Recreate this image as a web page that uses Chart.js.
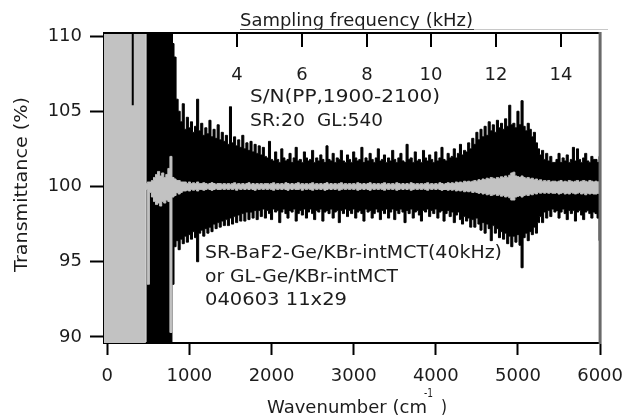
<!DOCTYPE html>
<html>
<head>
<meta charset="utf-8">
<script src="https://cdn.jsdelivr.net/npm/chart.js@4/dist/chart.umd.min.js"></script>
<style>
  html, body { margin: 0; padding: 0; background: #fff; }
  #wrap { width: 634px; height: 417px; }
</style>
</head>
<body>
<div id="wrap"><canvas id="chart_transmittance" width="634" height="417"></canvas></div>
<script>
// wavenumber grid (cm-1), one row = 500 cm-1
const wavenumber = [
  -50, -25, 0, 25, 50, 75, 100, 125, 150, 175, 200, 225, 250, 275, 300, 325, 350, 375, 400, 425,
  450, 475, 500, 525, 550, 575, 600, 625, 650, 675, 700, 725, 750, 775, 800, 825, 850, 875, 900, 925,
  950, 975, 1000, 1025, 1050, 1075, 1100, 1125, 1150, 1175, 1200, 1225, 1250, 1275, 1300, 1325, 1350, 1375, 1400, 1425,
  1450, 1475, 1500, 1525, 1550, 1575, 1600, 1625, 1650, 1675, 1700, 1725, 1750, 1775, 1800, 1825, 1850, 1875, 1900, 1925,
  1950, 1975, 2000, 2025, 2050, 2075, 2100, 2125, 2150, 2175, 2200, 2225, 2250, 2275, 2300, 2325, 2350, 2375, 2400, 2425,
  2450, 2475, 2500, 2525, 2550, 2575, 2600, 2625, 2650, 2675, 2700, 2725, 2750, 2775, 2800, 2825, 2850, 2875, 2900, 2925,
  2950, 2975, 3000, 3025, 3050, 3075, 3100, 3125, 3150, 3175, 3200, 3225, 3250, 3275, 3300, 3325, 3350, 3375, 3400, 3425,
  3450, 3475, 3500, 3525, 3550, 3575, 3600, 3625, 3650, 3675, 3700, 3725, 3750, 3775, 3800, 3825, 3850, 3875, 3900, 3925,
  3950, 3975, 4000, 4025, 4050, 4075, 4100, 4125, 4150, 4175, 4200, 4225, 4250, 4275, 4300, 4325, 4350, 4375, 4400, 4425,
  4450, 4475, 4500, 4525, 4550, 4575, 4600, 4625, 4650, 4675, 4700, 4725, 4750, 4775, 4800, 4825, 4850, 4875, 4900, 4925,
  4950, 4975, 5000, 5025, 5050, 5075, 5100, 5125, 5150, 5175, 5200, 5225, 5250, 5275, 5300, 5325, 5350, 5375, 5400, 5425,
  5450, 5475, 5500, 5525, 5550, 5575, 5600, 5625, 5650, 5675, 5700, 5725, 5750, 5775, 5800, 5825, 5850, 5875, 5900, 5925,
  5950, 5975, 6000
];

// black trace (SR-BaF2-Ge/KBr), upper and lower edge of the noise band (%)
const blackHigh = [
  null, null, null, null, null, null, null, null, null, null, null, null, null, null, null, null, null, null, null, null,
  null, 111, 111, 111, 111, 111, 111, 111, 111, 111, 111, 111, 111, 111, 109.5, 108.6, 105.8, 105.0, 104.3, 105.5,
  103.8, 104.6, 103.9, 104.3, 103.6, 104.0, 105.8, 103.7, 104.2, 103.4, 103.9, 103.5, 104.4, 103.3, 103.8, 103.2, 104.1, 103.1, 103.6, 103.0,
  103.4, 102.8, 105.3, 102.9, 103.3, 102.7, 103.1, 102.6, 103.4, 102.5, 102.9, 102.4, 103.0, 102.3, 102.8, 102.2, 102.7, 102.1, 102.6, 102.0,
  101.9, 103.0, 101.8, 101.7, 102.3, 101.8, 101.6, 102.5, 101.9, 101.7, 101.8, 102.2, 101.6, 101.9, 102.6, 101.7, 101.8, 101.6, 102.3, 101.9,
  101.7, 101.8, 102.4, 101.6, 101.9, 101.7, 102.1, 101.8, 101.6, 102.7, 101.8, 101.7, 102.2, 101.6, 101.9, 101.8, 102.4, 101.7, 101.6, 102.1,
  101.8, 101.6, 102.3, 101.9, 101.7, 101.8, 102.6, 101.6, 101.9, 101.7, 102.2, 101.8, 101.6, 101.9, 102.5, 101.7, 101.8, 102.1, 101.6, 101.9,
  101.7, 102.4, 101.8, 101.6, 101.9, 102.2, 101.7, 101.6, 102.8, 101.8, 101.9, 101.6, 102.3, 101.7, 101.8, 101.6, 102.4, 101.9, 101.7, 102.1,
  101.8, 101.6, 102.3, 101.7, 101.9, 102.6, 101.8, 101.7, 102.2, 101.9, 102.0, 102.5, 101.9, 102.2, 102.8, 102.1, 102.4, 102.3, 102.9, 102.5,
  103.2, 102.8, 103.6, 103.1, 103.8, 103.3, 104.0, 103.4, 104.3, 103.7, 104.1, 103.6, 104.4, 103.9, 104.2, 103.8, 104.5, 104.0, 105.4, 104.1,
  104.2, 103.9, 105.0, 104.1, 105.7, 104.0, 103.7, 104.2, 103.8, 103.3, 103.6, 102.9, 102.5, 102.1, 102.4, 101.8, 102.2, 101.7, 102.0, 101.6,
  101.6, 101.8, 102.2, 101.6, 101.9, 101.7, 102.1, 101.6, 101.8, 102.6, 101.7, 102.5, 101.8, 101.6, 101.9, 102.2, 101.7, 101.6, 102.0, 101.8,
  101.8, 101.6, 102.0
];
const blackLow = [
  null, null, null, null, null, null, null, null, null, null, null, null, null, null, null, null, null, null, null, null,
  null, 89, 89, 89, 89, 89, 89, 89, 89, 89, 89, 89, 89, 89, 93.5, 96.0, 96.4, 95.8, 96.5, 96.2,
  96.7, 96.3, 96.8, 96.5, 97.0, 96.6, 95.0, 96.9, 97.1, 96.7, 97.2, 96.9, 97.3, 97.0, 97.5, 97.2, 97.6, 97.3, 97.7, 97.4,
  97.8, 97.4, 97.9, 97.5, 98.0, 97.6, 98.1, 97.7, 98.2, 97.7, 98.3, 97.8, 98.3, 97.9, 98.4, 97.8, 98.4, 98.0, 98.5, 97.9,
  98.4, 98.2, 97.8, 98.5, 98.3, 98.4, 97.6, 98.3, 98.5, 98.2, 97.9, 98.4, 98.3, 98.5, 97.7, 98.2, 98.4, 98.1, 98.5, 97.9,
  98.3, 98.5, 98.2, 97.8, 98.4, 98.3, 98.5, 97.7, 98.3, 98.4, 98.2, 98.5, 97.9, 98.3, 98.4, 97.6, 98.4, 98.2, 98.5, 98.0,
  98.4, 98.2, 98.5, 97.9, 98.3, 98.4, 98.2, 97.7, 98.5, 98.3, 98.4, 97.9, 98.2, 98.5, 98.3, 97.8, 98.4, 98.2, 98.5, 97.9,
  98.3, 98.5, 97.8, 98.4, 98.2, 98.5, 98.3, 97.6, 98.4, 98.2, 98.5, 97.9, 98.3, 98.4, 98.1, 97.7, 98.4, 98.3, 98.5, 98.0,
  98.4, 98.2, 98.5, 97.9, 98.3, 98.4, 97.7, 98.2, 98.4, 98.0, 98.3, 97.6, 98.1, 98.3, 97.8, 97.5, 98.0, 97.7, 97.9, 97.3,
  97.8, 97.3, 97.9, 97.5, 97.1, 97.6, 96.9, 97.5, 97.2, 96.4, 97.4, 96.9, 97.2, 96.6, 97.0, 96.5, 96.9, 96.2, 96.7, 96.0,
  96.7, 96.3, 96.8, 96.1, 94.6, 96.6, 96.9, 96.4, 97.0, 96.8, 97.3, 96.9, 97.6, 98.0, 97.6, 98.3, 97.9, 98.4, 98.0, 98.5,
  98.3, 98.4, 97.9, 98.3, 98.5, 98.2, 97.8, 98.4, 98.2, 98.4, 97.7, 98.3, 98.4, 98.1, 97.8, 98.3, 98.4, 98.2, 97.9, 98.3,
  98.2, 97.9, 96.4
];

// gray trace (GL-Ge/KBr), upper and lower edge (%)
const grayHigh = [
  111, 111, 111, 111, 111, 111, 111, 111, 111, 111, 111, 111, 111, 111, 111, 111, 111, 111, 111, 111,
  111, 100.2, 100.3, 100.3, 100.4, 100.6, 100.8, 101.0, 100.7, 100.9, 100.6, 100.8, 101.2, 102.0, 100.6, 100.5, 100.4, 100.4, 100.3, 100.3,
  100.3, 100.2, 100.3, 100.2, 100.25, 100.2, 100.3, 100.2, 100.2, 100.25, 100.2, 100.15, 100.2, 100.25, 100.2, 100.15, 100.2, 100.2, 100.15, 100.2,
  100.15, 100.2, 100.15, 100.2, 100.25, 100.15, 100.2, 100.15, 100.2, 100.15, 100.2, 100.25, 100.15, 100.2, 100.15, 100.2, 100.15, 100.2, 100.15, 100.2,
  100.2, 100.15, 100.2, 100.25, 100.15, 100.2, 100.15, 100.2, 100.15, 100.25, 100.2, 100.15, 100.2, 100.15, 100.2, 100.25, 100.15, 100.2, 100.15, 100.2,
  100.15, 100.2, 100.25, 100.15, 100.2, 100.15, 100.2, 100.15, 100.2, 100.25, 100.15, 100.2, 100.15, 100.2, 100.15, 100.2, 100.25, 100.15, 100.2, 100.15,
  100.2, 100.15, 100.2, 100.15, 100.25, 100.2, 100.15, 100.2, 100.15, 100.2, 100.25, 100.15, 100.2, 100.15, 100.2, 100.15, 100.2, 100.25, 100.15, 100.2,
  100.15, 100.2, 100.15, 100.25, 100.2, 100.15, 100.2, 100.15, 100.2, 100.15, 100.25, 100.2, 100.15, 100.2, 100.15, 100.2, 100.15, 100.2, 100.25, 100.15,
  100.2, 100.15, 100.2, 100.15, 100.25, 100.2, 100.15, 100.2, 100.25, 100.2, 100.25, 100.2, 100.3, 100.25, 100.3, 100.25, 100.35, 100.3, 100.35, 100.3,
  100.35, 100.4, 100.35, 100.45, 100.4, 100.5, 100.45, 100.55, 100.5, 100.6, 100.55, 100.5, 100.6, 100.55, 100.65, 100.6, 100.7, 100.6, 100.75, 100.9,
  100.95, 100.7, 100.65, 100.6, 100.7, 100.6, 100.55, 100.6, 100.5, 100.55, 100.45, 100.5, 100.4, 100.45, 100.35, 100.4, 100.35, 100.4, 100.3, 100.35,
  100.35, 100.3, 100.35, 100.4, 100.3, 100.35, 100.3, 100.4, 100.35, 100.3, 100.35, 100.4, 100.3, 100.35, 100.4, 100.35, 100.3, 100.4, 100.35, 100.3,
  100.35, 100.3, 100.35
];
const grayLow = [
  89, 89, 89, 89, 89, 89, 89, 89, 89, 89, 89, 89, 89, 89, 89, 89, 89, 89, 89, 89,
  89, 99.8, 93.5, 99.6, 99.3, 99.0, 98.8, 98.9, 98.7, 99.0, 98.9, 99.1, 99.0, 90.3, 99.3, 99.4, 99.6, 99.5, 99.6, 99.7,
  99.7, 99.75, 99.7, 99.8, 99.75, 99.8, 99.7, 99.8, 99.8, 99.75, 99.8, 99.85, 99.8, 99.75, 99.8, 99.85, 99.8, 99.8, 99.85, 99.8,
  99.85, 99.8, 99.85, 99.8, 99.85, 99.75, 99.85, 99.8, 99.85, 99.8, 99.85, 99.8, 99.85, 99.8, 99.75, 99.85, 99.8, 99.85, 99.8, 99.85,
  99.8, 99.85, 99.8, 99.75, 99.85, 99.8, 99.85, 99.8, 99.85, 99.8, 99.75, 99.85, 99.8, 99.85, 99.8, 99.8, 99.85, 99.75, 99.85, 99.8,
  99.85, 99.8, 99.75, 99.85, 99.8, 99.85, 99.8, 99.85, 99.75, 99.8, 99.85, 99.8, 99.85, 99.8, 99.85, 99.75, 99.8, 99.85, 99.8, 99.85,
  99.8, 99.85, 99.8, 99.85, 99.75, 99.8, 99.85, 99.8, 99.85, 99.8, 99.75, 99.85, 99.8, 99.85, 99.8, 99.85, 99.8, 99.75, 99.85, 99.8,
  99.85, 99.8, 99.85, 99.75, 99.8, 99.85, 99.8, 99.85, 99.8, 99.85, 99.75, 99.8, 99.85, 99.8, 99.85, 99.8, 99.85, 99.8, 99.75, 99.85,
  99.8, 99.85, 99.8, 99.85, 99.8, 99.75, 99.8, 99.8, 99.75, 99.8, 99.75, 99.8, 99.7, 99.75, 99.7, 99.75, 99.65, 99.7, 99.65, 99.7,
  99.6, 99.65, 99.6, 99.55, 99.6, 99.5, 99.55, 99.45, 99.5, 99.4, 99.45, 99.5, 99.4, 99.45, 99.35, 99.4, 99.3, 99.35, 99.25, 99.1,
  99.1, 99.3, 99.35, 99.4, 99.3, 99.4, 99.45, 99.4, 99.5, 99.45, 99.55, 99.5, 99.6, 99.55, 99.6, 99.55, 99.6, 99.55, 99.6, 99.55,
  99.55, 99.6, 99.5, 99.55, 99.6, 99.5, 99.55, 99.5, 99.6, 99.55, 99.5, 99.55, 99.6, 99.5, 99.55, 99.45, 99.55, 99.5, 99.55, 99.5,
  99.5, 99.55, 99.5
];

// single black spike that shows through the gray block
const spikeX = [310, 310];
const spikeY = [111, 105.4];

const xTicks = [0, 1000, 2000, 3000, 4000, 5000, 6000];
const yTicks = [90, 95, 100, 105, 110];
const kHzTicks = [2, 4, 6, 8, 10, 12, 14];
const wavenumberPerKHz = 394.6;

const FONT = '"DejaVu Sans", "Liberation Sans", sans-serif';
const INK = '#1c1c1c';

function stretchText(ctx, str, x, y, width, size) {
  ctx.save();
  ctx.font = size + 'px ' + FONT;
  ctx.textAlign = 'left';
  ctx.textBaseline = 'alphabetic';
  const w = ctx.measureText(str).width;
  ctx.translate(x, y);
  ctx.scale(width / w, 1);
  ctx.fillText(str, 0, 0);
  ctx.restore();
}

const topAxisPlugin = {
  id: 'topAxis',
  beforeDatasetsDraw(chart) {
    const ctx = chart.ctx;
    const xs = chart.scales.x;
    const top = chart.chartArea.top;
    ctx.save();
    ctx.strokeStyle = '#000';
    ctx.lineWidth = 2;
    ctx.fillStyle = INK;
    ctx.font = '18px ' + FONT;
    ctx.textAlign = 'center';
    ctx.textBaseline = 'alphabetic';
    kHzTicks.forEach(k => {
      const px = Math.round(xs.getPixelForValue(k * wavenumberPerKHz));
      ctx.beginPath();
      ctx.moveTo(px, top);
      ctx.lineTo(px, top + 14);
      ctx.stroke();
      ctx.fillText(String(k), px, 80);
    });
    ctx.restore();
  },
  afterDatasetsDraw(chart) {
    const ctx = chart.ctx;
    const a = chart.chartArea;
    ctx.save();
    // frame
    ctx.strokeStyle = '#000';
    ctx.lineWidth = 2;
    ctx.beginPath();
    ctx.moveTo(a.left - 1, a.top);
    ctx.lineTo(a.right, a.top);
    ctx.stroke();
    ctx.strokeStyle = '#6a6a6a';
    ctx.lineWidth = 3;
    ctx.beginPath();
    ctx.moveTo(a.right, a.top - 1);
    ctx.lineTo(a.right, a.bottom + 1);
    ctx.stroke();

    // top axis title with its line
    ctx.fillStyle = INK;
    stretchText(ctx, 'Sampling frequency (kHz)', 240, 26, 233, 17);
    ctx.lineWidth = 1;
    ctx.strokeStyle = '#444';
    ctx.beginPath();
    ctx.moveTo(240, 29.5);
    ctx.lineTo(474, 29.5);
    ctx.stroke();
    ctx.strokeStyle = '#c8c8c8';
    ctx.beginPath();
    ctx.moveTo(474, 29.5);
    ctx.lineTo(608, 29.5);
    ctx.stroke();

    // annotations
    stretchText(ctx, 'S/N(PP,1900-2100)', 250, 102, 190, 18);
    stretchText(ctx, 'SR:20', 250, 126, 55, 18);
    stretchText(ctx, 'GL:540', 317, 126, 66, 18);
    stretchText(ctx, 'SR-BaF2-Ge/KBr-intMCT(40kHz)', 205, 258, 297, 18);
    stretchText(ctx, 'or GL-Ge/KBr-intMCT', 205, 282, 193, 18);
    stretchText(ctx, '040603 11x29', 205, 305, 142, 18);

    // x axis title
    stretchText(ctx, 'Wavenumber (cm', 267, 413, 160, 18);
    stretchText(ctx, '-1', 424, 397, 9, 13);
    stretchText(ctx, ')', 441, 413, 6, 18);

    // y axis title
    ctx.save();
    ctx.translate(27, 272);
    ctx.rotate(-Math.PI / 2);
    stretchText(ctx, 'Transmittance (%)', 0, 0, 175, 18);
    ctx.restore();
    ctx.restore();
  }
};

const lineStyle = { pointRadius: 0, borderWidth: 1, tension: 0, spanGaps: false, stepped: 'middle' };

const chart_transmittance = new Chart(document.getElementById('chart_transmittance'), {
  type: 'line',
  data: {
    labels: wavenumber,
    datasets: [
      Object.assign({ label: 'SR high', data: blackHigh, borderColor: '#000', fill: false, order: 5 }, lineStyle),
      Object.assign({ label: 'SR low', data: blackLow, borderColor: '#000', backgroundColor: '#000', fill: '-1', order: 4 }, lineStyle),
      Object.assign({ label: 'GL high', data: grayHigh, borderColor: '#c2c2c2', fill: false, order: 3 }, lineStyle),
      Object.assign({ label: 'GL low', data: grayLow, borderColor: '#c2c2c2', backgroundColor: '#c2c2c2', fill: '-1', order: 2 }, lineStyle),
      {
        label: 'SR spike',
        data: spikeX.map((x, i) => ({ x: x, y: spikeY[i] })),
        borderColor: '#000', borderWidth: 2, pointRadius: 0, fill: false, order: 1
      }
    ]
  },
  options: {
    animation: false,
    responsive: false,
    devicePixelRatio: 1,
    layout: { padding: { left: 0, right: 26, top: 33, bottom: 0 } },
    plugins: {
      legend: { display: false },
      tooltip: { enabled: false },
      title: { display: false }
    },
    scales: {
      x: {
        type: 'linear',
        position: 'bottom',
        min: -40,
        max: 6000,
        afterBuildTicks: s => { s.ticks = xTicks.map(v => ({ value: v })); },
        afterFit: s => { s.height = 74; },
        ticks: {
          font: { family: FONT, size: 18 },
          color: INK,
          padding: 11,
          maxRotation: 0,
          autoSkip: false,
          callback: v => String(v)
        },
        grid: { drawOnChartArea: false, drawTicks: true, tickLength: 12, tickWidth: 2, tickColor: '#000' },
        border: { display: true, color: '#000', width: 2 }
      },
      y: {
        type: 'linear',
        min: 89.6,
        max: 110.2,
        afterBuildTicks: s => { s.ticks = yTicks.map(v => ({ value: v })); },
        afterFit: s => { s.width = 104; },
        ticks: {
          font: { family: FONT, size: 18 },
          color: INK,
          padding: 8,
          callback: v => String(v)
        },
        grid: { drawOnChartArea: false, drawTicks: true, tickLength: 14, tickWidth: 2, tickColor: '#000' },
        border: { display: true, color: '#000', width: 2 }
      }
    }
  },
  plugins: [topAxisPlugin, {
    id: 'whiteBackground',
    beforeDraw: (chart) => {
      const ctx = chart.canvas.getContext('2d');
      ctx.save();
      ctx.globalCompositeOperation = 'destination-over';
      ctx.fillStyle = 'white';
      ctx.fillRect(0, 0, chart.canvas.width, chart.canvas.height);
      ctx.restore();
    }
  }]
});
</script>
</body>
</html>
